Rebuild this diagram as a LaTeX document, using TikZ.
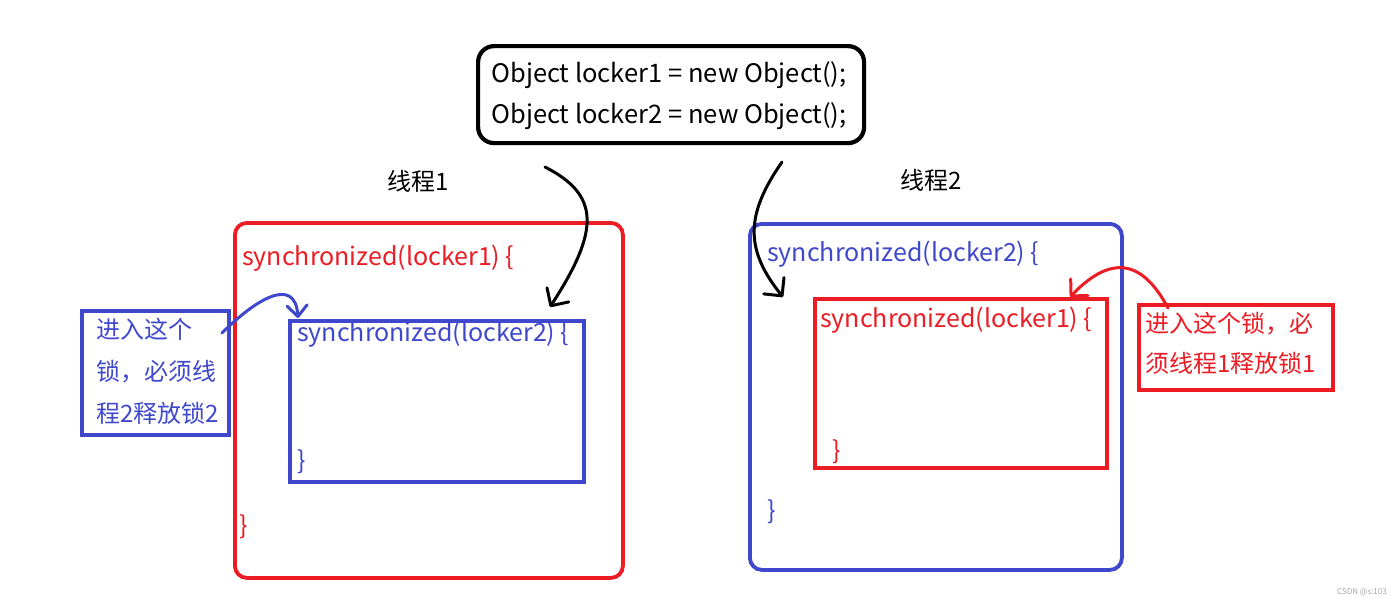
\documentclass[tikz,border=0pt]{standalone}
\usepackage{fontspec}
\setmainfont{Noto Sans CJK SC}
\usetikzlibrary{arrows.meta}
\definecolor{pred}{RGB}{236,28,36}
\definecolor{pblue}{RGB}{63,72,204}
\begin{document}
\begin{tikzpicture}[x=1pt,y=-1pt,
  box/.style={draw, line width=3.8pt, inner sep=0pt, anchor=north west},
  code/.style={anchor=west, inner sep=0pt, font=\fontsize{25}{28}\selectfont},
  notetext/.style={anchor=west, inner sep=0pt, align=left},
  label/.style={inner sep=0pt, font=\fontsize{24}{28}\selectfont},
  arr/.style={line width=3pt, line cap=round, -{Straight Barb[length=13pt,width=26pt,line width=3pt,round]}},
]
\useasboundingbox[fill=white] (0,0) rectangle (1400,606);

% top declaration box
\node[box, black, line width=4.2pt, rounded corners=16pt, minimum width=386pt, minimum height=97pt] (decl) at (476,44) {};
\node[inner sep=0pt, align=left, font=\fontsize{25.5}{41}\selectfont] (decltext) at (669,96)
  {Object locker1 = new Object();\\Object locker2 = new Object();};

% thread labels
\node[label] (l1) at (418,181) {线程1};
\node[label] (l2) at (931,180) {线程2};

% thread 1
\node[box, pred, rounded corners=12pt, minimum width=388pt, minimum height=355pt] (t1) at (233,221) {};
\node[code, pred] (t1a) at (242,258) {synchronized(locker1) \{};
\node[code, pred] (t1b) at (239,527) {\}};
\node[box, pblue, minimum width=294pt, minimum height=161pt] (t1in) at (288,319) {};
\node[code, pblue] (t1c) at (297,334) {synchronized(locker2) \{};
\node[code, pblue] (t1d) at (297,462) {\}};
\node[box, pblue, minimum width=147pt, minimum height=124pt] (n1) at (80,309) {};
\node[notetext, pblue, font=\fontsize{24}{42}\selectfont] (n1t) at (96,371) {进入这个\\锁，必须线\\程2释放锁2};

% thread 2
\node[box, pblue, rounded corners=12pt, minimum width=372pt, minimum height=346pt] (t2) at (748,222) {};
\node[code, pblue] (t2a) at (767,254) {synchronized(locker2) \{};
\node[code, pblue] (t2b) at (767,512) {\}};
\node[box, pred, minimum width=292pt, minimum height=169pt] (t2in) at (813,297) {};
\node[code, pred] (t2c) at (820,320) {synchronized(locker1) \{};
\node[code, pred] (t2d) at (832,452) {\}};
\node[box, pred, minimum width=194pt, minimum height=85pt] (n2) at (1137,303) {};
\node[notetext, pred, font=\fontsize{24}{40}\selectfont] (n2t) at (1145,343) {进入这个锁，必\\须线程1释放锁1};

% watermark
\node[inner sep=0pt, font=\fontsize{8}{9}\selectfont, gray!70] (wm) at (1362,592) {CSDN @s:103};

% connector ends
\coordinate (a1s) at (545,167);
\coordinate (a1e) at (550,307);
\coordinate (a2s) at (782,162);
\coordinate (a2e) at (783,297);
\coordinate (b1s) at (222,333);
\coordinate (b1e) at (298,318);
\coordinate (r1s) at (1168,308);
\coordinate (r1e) at (1070,297);

\draw[arr, black] (a1s) .. controls (600,195) and (600,230) .. (a1e);
\draw[arr, black] (a2s) .. controls (745,215) and (745,250) .. (a2e);
\draw[arr, pblue, -{Straight Barb[length=11pt,width=20pt,line width=3pt,round]}] (b1s) .. controls (255,300) and (295,275) .. (b1e);
\draw[arr, pred, -{Straight Barb[length=12pt,width=24pt,line width=3pt,round]}] (r1s) .. controls (1145,265) and (1115,250) .. (r1e);
\end{tikzpicture}
\end{document}
